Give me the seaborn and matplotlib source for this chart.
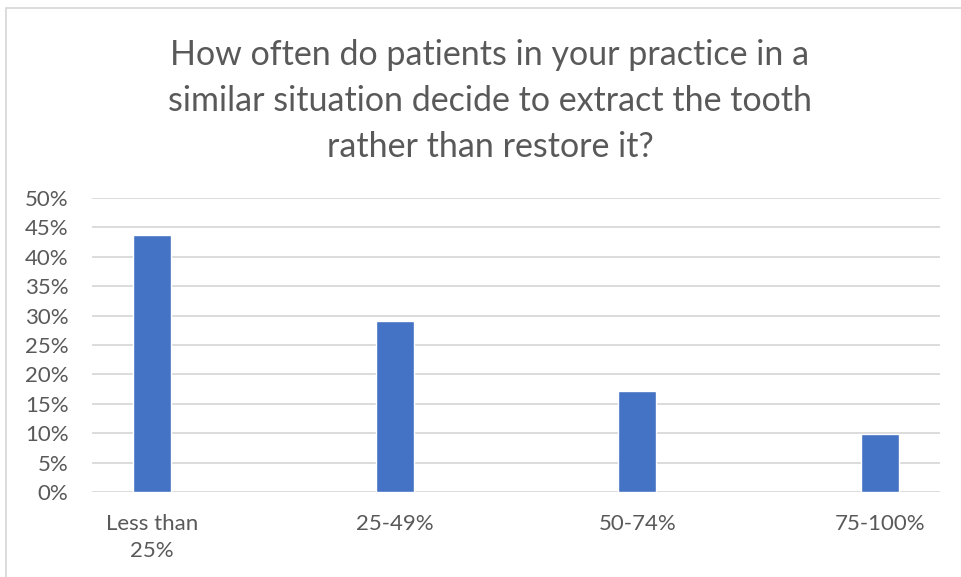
import matplotlib
matplotlib.use("Agg")
import matplotlib.pyplot as plt
import seaborn as sns
import pandas as pd
from matplotlib.patches import Rectangle

categories = ["Less than\n25%", "25-49%", "50-74%", "75-100%"]
values = [43.7, 29.1, 17.2, 9.9]
yticks = [0, 5, 10, 15, 20, 25, 30, 35, 40, 45, 50]
title = "How often do patients in your practice in a\nsimilar situation decide to extract the tooth\nrather than restore it?"

sns.set_theme(style="white")
plt.rcParams['font.family'] = ['Lato', 'DejaVu Sans']

df = pd.DataFrame({"cat": categories, "val": values})

W, H = 961, 577
fig = plt.figure(figsize=(W / 100, H / 100), dpi=100)
ax = fig.add_axes([92 / W, 1 - 492 / H, (940 - 92) / W, (492 - 198) / H])

sns.barplot(data=df, x="cat", y="val", color="#4472C4", width=0.157,
            saturation=1, ax=ax, zorder=3)

ax.set_ylim(0, 50)
ax.set_xlim(-0.247, 3.247)
ax.set_yticks(yticks)
ax.set_yticklabels([f"{t}%" for t in yticks])
ax.yaxis.grid(True, color="#d9d9d9", linewidth=1.3, zorder=0)
ax.set_axisbelow(True)
for s in ax.spines.values():
    s.set_visible(False)
ax.tick_params(axis="both", length=0, labelsize=16, colors="#595959")
ax.tick_params(axis="y", pad=17)
ax.tick_params(axis="x", pad=16)
for lbl in ax.get_xticklabels():
    lbl.set_linespacing(1.45)
ax.set_xlabel("")
ax.set_ylabel("")

fig.text(490 / W, 1 - 101 / H, title, ha="center", va="center", fontsize=24.5,
         color="#595959", linespacing=1.55)

fig.patches.append(Rectangle((6 / W, -0.1), 1.2, 1 + 0.1 - 8 / H,
                             transform=fig.transFigure, fill=False,
                             edgecolor="#d9d9d9", linewidth=1.3))

fig.savefig("out.png", dpi=100)
